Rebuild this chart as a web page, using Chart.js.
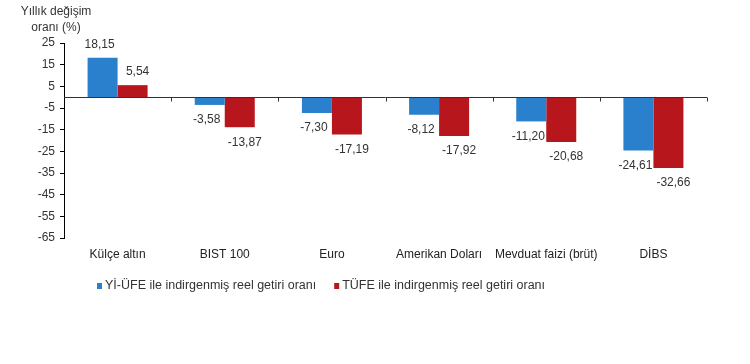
<!DOCTYPE html>
<html><head><meta charset="utf-8">
<script src="https://cdn.jsdelivr.net/npm/chart.js@4"></script>
<style>html,body{margin:0;padding:0;background:#fff}#wrap{width:750px;height:364px;position:relative}</style>
</head><body><div id="wrap"><canvas id="c" width="750" height="364"></canvas></div>
<script>
const categories = ['Külçe altın', 'BIST 100', 'Euro', 'Amerikan Doları', 'Mevduat faizi (brüt)', 'DİBS'];
const yiUfeValues = [18.15, -3.58, -7.30, -8.12, -11.20, -24.61];
const tufeValues = [5.54, -13.87, -17.19, -17.92, -20.68, -32.66];
const seriesNames = ['Yİ-ÜFE ile indirgenmiş reel getiri oranı', 'TÜFE ile indirgenmiş reel getiri oranı'];
const yTitleLines = ['Yıllık değişim', 'oranı (%)'];
const yMin = -65, yMax = 25, yStep = 10;
const seriesColors = ['#2a80cc', '#b8161d'];

const FONT = 'Arial, "Liberation Sans", sans-serif';

const extras = {
  id: 'extras',
  afterDatasetsDraw(chart) {
    const ctx = chart.ctx;
    const ca = chart.chartArea;
    const ys = chart.scales.y;
    const y0 = Math.round(ys.getPixelForValue(0)) + 0.5;
    ctx.save();
    // zero line
    ctx.strokeStyle = '#333';
    ctx.lineWidth = 1;
    ctx.beginPath();
    ctx.moveTo(ca.left, y0); ctx.lineTo(ca.right, y0);
    const n = categories.length;
    for (let i = 1; i <= n; i++) {
      const x = Math.round(ca.left + i * (ca.right - ca.left) / n) + 0.5;
      ctx.moveTo(x, y0); ctx.lineTo(x, y0 + 4);
    }
    ctx.stroke();
    // data labels
    ctx.font = '12px ' + FONT;
    ctx.fillStyle = '#333';
    ctx.textAlign = 'center';
    ctx.textBaseline = 'middle';
    chart.data.datasets.forEach((ds, di) => {
      const meta = chart.getDatasetMeta(di);
      meta.data.forEach((bar, i) => {
        const v = ds.data[i];
        const txt = v.toFixed(2).replace('.', ',');
        const dx = di === 0 ? -3 : 5;
        const y = v >= 0 ? bar.y - 13 : bar.y + 15;
        ctx.fillText(txt, bar.x + dx, y);
      });
    });
    // title
    ctx.fillStyle = '#333';
    ctx.font = '12px ' + FONT;
    const tx = ca.left - 8;
    ctx.fillText(yTitleLines[0], tx, 12);
    ctx.fillText(yTitleLines[1], tx, 28);
    // legend
    ctx.font = '12.5px ' + FONT;
    ctx.textAlign = 'left';
    let lx = ca.left + 33;
    const ly = ca.bottom + 48;
    seriesNames.forEach((name, i) => {
      ctx.fillStyle = seriesColors[i];
      ctx.fillRect(lx, ly - 3, 5, 6);
      ctx.fillStyle = '#333';
      ctx.fillText(name, lx + 8, ly);
      lx += 8 + ctx.measureText(name).width + 18;
    });
    ctx.restore();
  }
};

new Chart(document.getElementById('c'), {
  type: 'bar',
  data: {
    labels: categories,
    datasets: [
      { label: seriesNames[0], data: yiUfeValues, backgroundColor: seriesColors[0] },
      { label: seriesNames[1], data: tufeValues, backgroundColor: seriesColors[1] }
    ]
  },
  options: {
    responsive: false,
    animation: false,
    devicePixelRatio: 1,
    layout: { padding: { left: 0, top: 43, right: 43, bottom: 96 } },
    datasets: { bar: { categoryPercentage: 0.56, barPercentage: 1.0 } },
    plugins: { legend: { display: false }, tooltip: { enabled: false }, title: { display: false } },
    scales: {
      x: {
        grid: { display: false, drawTicks: false },
        border: { display: false },
        ticks: { color: '#222', font: { size: 12, family: FONT }, padding: 9, maxRotation: 0, autoSkip: false },
        afterFit(s) { s.height = 30; }
      },
      y: {
        min: yMin, max: yMax,
        grid: { display: true, drawOnChartArea: false, drawTicks: true, tickLength: 4, color: '#000' },
        border: { display: true, color: '#000', width: 1 },
        ticks: { stepSize: yStep, color: '#333', font: { size: 12, family: FONT }, padding: 5 },
        afterFit(s) { s.width = 64; }
      }
    }
  },
  plugins: [extras]
});
</script>
</body></html>
